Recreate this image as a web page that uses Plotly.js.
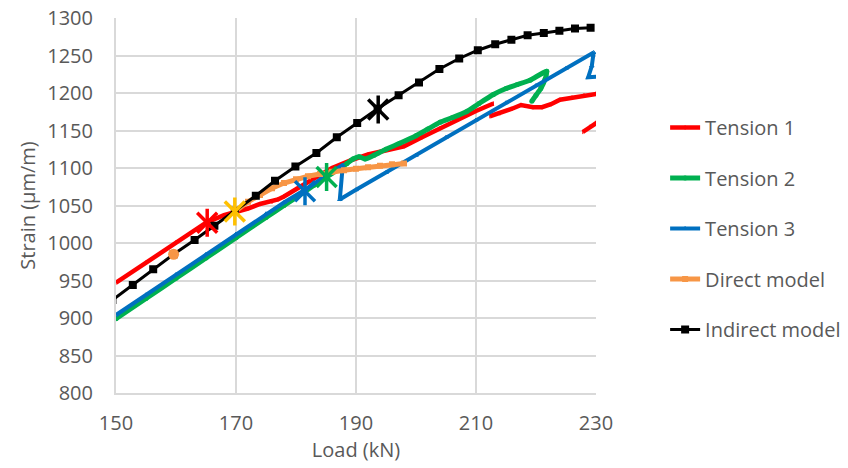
<!DOCTYPE html>
<html>
<head>
<meta charset="utf-8">
<script src="https://cdn.plot.ly/plotly-3.0.1.min.js"></script>
<style>html,body{margin:0;padding:0;background:#fff;}#chart{width:848px;height:468px;}</style>
</head>
<body>
<div id="chart"></div>
<script>
// Tension 1 (three pieces, separated by gaps)
const t1Load = [150, 155, 160, 165, 168, 170, 172, 174, 176, 177, 178, 180, 183, 186, 189, 192, 195, 198, 201, 204, 207, 210, 212.9,
  null,
  212.3, 214, 216, 217.5, 219.5, 221, 222.5, 224, 226, 228, 230, 231,
  null,
  227.8, 229, 230, 231];
const t1Strain = [947, 974, 1001, 1027, 1037, 1041, 1046, 1052, 1055, 1058, 1062, 1072, 1086, 1100, 1110, 1118, 1124, 1129, 1141, 1153, 1165, 1176, 1186,
  null,
  1169, 1173, 1179, 1184, 1181, 1181, 1185, 1191, 1194, 1197, 1199, 1200,
  null,
  1148, 1155, 1160, 1165];

// Tension 2
const t2Load = [150, 155, 160, 165, 170, 175, 178, 181, 183, 185.1, 187, 188.5, 189.5, 190.5, 191.5, 193, 195, 197.3, 200, 202, 204, 206, 208.4, 210.5, 212.9, 215, 216.8, 219, 221.8, 221.5, 220.8, 220.0, 219.3];
const t2Strain = [899, 926, 953, 980, 1007, 1034, 1050, 1066, 1077, 1088, 1098, 1106, 1112, 1115, 1112, 1117, 1125, 1133, 1143, 1152, 1161, 1167, 1175, 1186, 1198, 1206, 1211, 1217, 1229, 1218, 1206, 1197, 1189];

// Tension 3
const t3Load = [150, 155, 160, 165, 170, 175, 178, 181.5, 184, 186, 187.8, 187.3, 190, 195, 200, 205, 210, 215, 220, 225, 229.6, 229.3, 228.7, 230.5];
const t3Strain = [904, 931, 958, 985, 1012, 1039, 1054, 1071, 1085, 1095, 1104, 1058, 1071, 1094, 1117, 1141, 1164, 1187, 1210, 1233, 1254, 1236, 1221, 1222];

// Direct model
const dmLoad = [170, 172, 174, 176, 178, 180, 182, 184, 186, 188, 190, 192, 194, 196, 198];
const dmStrain = [1043, 1055, 1064, 1073, 1080, 1085, 1089, 1092, 1095, 1097, 1099, 1101, 1103, 1105, 1106];

// Indirect model
const imLoad = [149.4, 152.8, 156.2, 159.6, 163.1, 166.4, 169.8, 173.3, 176.5, 179.9, 183.4, 186.8, 190.2, 193.6, 197.1, 200.5, 203.9, 207.2, 210.3, 213.2, 215.9, 218.6, 221.3, 223.9, 226.5, 229.1];
const imStrain = [924, 944, 965, 985, 1004, 1023, 1043, 1063, 1083, 1102, 1120, 1141, 1160, 1179, 1197, 1214, 1232, 1246, 1257, 1265, 1271, 1277, 1280, 1283, 1286, 1287];

// Highlighted points (asterisks) and the single orange point
const starLoad = [165.2, 185.1, 181.5, 169.8, 193.7];
const starStrain = [1027, 1088, 1069, 1042, 1178];
const starColors = ['#FF0000', '#00B050', '#0070C0', '#FFC000', '#000000'];
const dotLoad = [159.6];
const dotStrain = [985];

// Axis ticks
const xTicks = [150, 170, 190, 210, 230];
const yTicks = [800, 850, 900, 950, 1000, 1050, 1100, 1150, 1200, 1250, 1300];

const RED = '#FF0000', GREEN = '#00B050', BLUE = '#0070C0', ORANGE = '#F79646', BLACK = '#000000';
const FONT = 'Open Sans, Liberation Sans, sans-serif';
const TXT = '#595959';

const traces = [
  {x: t1Load, y: t1Strain, name: 'Tension 1', legendgroup: 'a', mode: 'lines+markers', connectgaps: false,
   line: {color: RED, width: 4.5}, marker: {color: RED, size: 3, symbol: 'line-ns-open', line: {color: RED, width: 1}}},
  {x: t2Load, y: t2Strain, name: 'Tension 2', legendgroup: 'b', mode: 'lines+markers', line: {color: GREEN, width: 5, shape: 'spline', smoothing: 0.6},
   marker: {color: GREEN, size: 5, symbol: 'circle'}},
  {x: t3Load, y: t3Strain, name: 'Tension 3', legendgroup: 'c', mode: 'lines+markers',
   line: {color: BLUE, width: 4}, marker: {color: BLUE, size: 4, symbol: 'triangle-up-open', line: {color: BLUE, width: 1}}},
  {x: dmLoad, y: dmStrain, name: 'Direct model', legendgroup: 'd', mode: 'lines+markers',
   line: {color: ORANGE, width: 5}, marker: {color: ORANGE, size: 6, symbol: 'square'}},
  {x: imLoad, y: imStrain, name: 'Indirect model', legendgroup: 'e', mode: 'lines+markers',
   line: {color: BLACK, width: 3}, marker: {color: BLACK, size: 8, symbol: 'square'}},
  {x: dotLoad, y: dotStrain, showlegend: false, mode: 'markers', marker: {color: ORANGE, size: 11, symbol: 'circle'}},
  {x: starLoad, y: starStrain, showlegend: false, mode: 'markers',
   marker: {symbol: 'x-thin-open', size: 20, color: starColors, line: {color: starColors, width: 3.5}}},
  {x: starLoad, y: starStrain, showlegend: false, mode: 'markers',
   marker: {symbol: 'line-ns-open', size: 20, color: starColors, line: {color: starColors, width: 3.5}}}
];

const layout = {
  width: 848, height: 468,
  margin: {l: 116, r: 252, t: 18, b: 75, autoexpand: false},
  paper_bgcolor: '#FFFFFF', plot_bgcolor: '#FFFFFF',
  font: {family: FONT, color: TXT, size: 20},
  hovermode: false,
  xaxis: {
    range: [150, 230], tickvals: xTicks, ticktext: xTicks.map(String),
    showgrid: true, gridcolor: '#D9D9D9', gridwidth: 2,
    showline: true, linecolor: '#D9D9D9', linewidth: 2,
    zeroline: false, ticks: '', ticklabelstandoff: 11,
    tickfont: {family: FONT, size: 20, color: TXT},
    title: {text: 'Load (kN)', font: {family: FONT, size: 20, color: TXT}, standoff: 6}
  },
  yaxis: {
    range: [800, 1300], tickvals: yTicks, ticktext: yTicks.map(String),
    showgrid: true, gridcolor: '#D9D9D9', gridwidth: 2,
    showline: true, linecolor: '#D9D9D9', linewidth: 2,
    zeroline: false, ticks: '', ticklabelstandoff: 17,
    tickfont: {family: FONT, size: 20, color: TXT},
    title: {text: 'Strain (µm/m)', font: {family: FONT, size: 20, color: TXT}, standoff: 6}
  },
  legend: {
    x: 1.144, xanchor: 'left', y: 0.76, yanchor: 'top',
    font: {family: FONT, size: 20, color: TXT},
    traceorder: 'grouped', tracegroupgap: 21.5,
    bgcolor: 'rgba(0,0,0,0)', borderwidth: 0
  },
  showlegend: true
};

Plotly.newPlot('chart', traces, layout, {displayModeBar: false, staticPlot: true});
</script>
</body>
</html>
